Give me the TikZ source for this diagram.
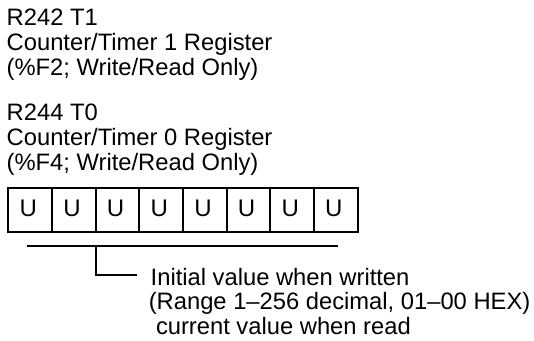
\documentclass[tikz,border=0pt]{standalone}
\usepackage{fontspec}
\setmainfont{Liberation Sans}
\begin{document}
\begin{tikzpicture}[x=1pt,y=-1pt,
  txt/.style={anchor=base west,inner sep=0pt,font=\fontsize{23.75}{25}\selectfont},
  cell/.style={draw,line width=2pt,minimum width=43.65pt,minimum height=44pt,inner sep=0pt,anchor=center},
  bit/.style={anchor=base,inner sep=0pt,font=\fontsize{24}{26}\selectfont},
  thin/.style={line width=1.3pt}]
\useasboundingbox (0,0) rectangle (534,340);
% header texts
\node[txt] (t1) at (6.5,25) {R242 T1};
\node[txt] (t2) at (6.5,50) {Counter/Timer 1 Register};
\node[txt] (t3) at (6.5,75) {(\%F2; Write/Read Only)};
\node[txt] (t4) at (6.5,120) {R244 T0};
\node[txt] (t5) at (6.5,145) {Counter/Timer 0 Register};
\node[txt] (t6) at (6.5,170) {(\%F4; Write/Read Only)};
% register cells
\foreach \i in {1,...,8}{
  \node[cell] (c\i) at ({8.3+43.65*(\i-0.5)},210) {};
  \node[bit] (u\i) at ([xshift=-1.8pt,yshift=-6pt]c\i.center) {U};
}
% bracket lines
\coordinate (hl) at (26.7,246);
\coordinate (hr) at (337.7,246);
\coordinate (vt) at (96,246);
\coordinate (vb) at (96,275);
\coordinate (he) at (137,275);
\draw[thin] (hl) -- (hr);
\draw[thin] (vt) -- (vb) -- (he);
% description texts
\node[txt] (d1) at (150.5,285) {Initial value when written};
\node[txt] (d2) at (148.6,309) {(Range 1–256 decimal, 01–00 HEX)};
\node[txt] (d3) at (155.8,334) {current value when read};
\end{tikzpicture}
\end{document}
